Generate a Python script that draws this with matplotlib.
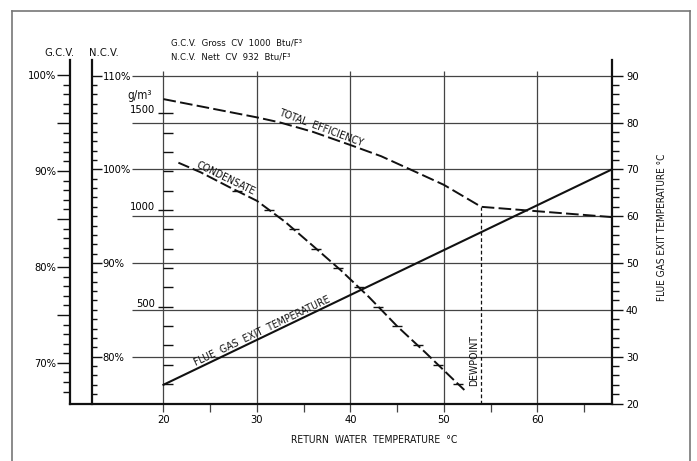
import matplotlib
matplotlib.use('Agg')
import matplotlib.pyplot as plt
import matplotlib.font_manager as fm
import numpy as np
from matplotlib.ticker import FixedLocator
from matplotlib.lines import Line2D

# pick a narrow font if one is installed (CAD-like look)
_narrow = None
for f in fm.fontManager.ttflist:
    fn = f.fname.lower()
    if ('narrow' in fn or 'condensed' in fn) and not any(k in fn for k in ('bold', 'italic', 'oblique', 'mono', 'serif')):
        _narrow = f
        break
if _narrow is not None:
    plt.rcParams['font.family'] = [_narrow.name, 'Liberation Sans', 'DejaVu Sans']
    plt.rcParams['font.stretch'] = _narrow.stretch
    FS = 8
    SP = '  '
    K = 1.0
else:
    plt.rcParams['font.family'] = ['Liberation Sans', 'DejaVu Sans']
    FS = 7.3
    SP = ' '
    K = 0.9

# ---------------- data ----------------
eff_return_temp = [20, 30, 32.5, 36, 40, 43.3, 46.5, 50, 54, 68]
total_eff_ncv = [107.5, 105.55, 105.0, 104.0, 102.6, 101.4, 99.95, 98.35, 96.0, 94.9]

cond_return_temp = [21.6, 24, 27, 30, 33, 36, 39, 42, 45, 48, 51, 52.2]
condensate_gm3 = [1245, 1195, 1120, 1048, 940, 815, 688, 550, 400, 265, 125, 70]

flue_return_temp = [20, 68]
flue_gas_temp = [24, 70]

dewpoint_temp = 54

x_major = [20, 30, 40, 50, 60]
x_minor = [25, 35, 45, 55, 65]
flue_major = [20, 30, 40, 50, 60, 70, 80, 90]
gcv_major = [70, 80, 90, 100]
ncv_major = [80, 90, 100, 110]
cond_major = [500, 1000, 1500]
cond_marks = [100, 200, 300, 400, 500, 600, 700, 800, 900, 1000, 1100]

# ---------------- layout ----------------
W, H = 697, 461
fig = plt.figure(figsize=(W / 100, H / 100), dpi=100)

def fx(px):
    return px / W

def fy(py):
    return 1 - py / H

rect = [fx(70), fy(403.5), fx(612) - fx(70), fy(60) - fy(403.5)]
XL = (10, 68)
YT = (20, 93.35)                     # flue gas temperature scale
YN = (75, 111.675)                   # N.C.V. %
YG = (65.77, 101.56)                 # G.C.V. %
YC = (0, 1776)                       # condensate g/m3

ink = '#111111'
grid_c = '#444444'

def sp(s, spacer=None):
    return s.replace(' ', SP if spacer is None else spacer)

# border
for xs, ys in [([fx(11.5), fx(11.5)], [fy(11.5), -0.05]),
               ([fx(11.5), fx(690)], [fy(11.5), fy(11.5)]),
               ([fx(690), fx(690)], [fy(11.5), -0.05])]:
    fig.add_artist(Line2D(xs, ys, color='#777777', lw=1.2))

# ---- main axes (return water temp vs flue gas temp) ----
ax = fig.add_axes(rect)
ax.set_xlim(*XL)
ax.set_ylim(*YT)
ax.patch.set_visible(False)
ax.spines['top'].set_visible(False)
for s in ['left', 'right', 'bottom']:
    ax.spines[s].set_linewidth(1.6)
    ax.spines[s].set_color(ink)

ax.xaxis.set_major_locator(FixedLocator(x_major))
ax.xaxis.set_minor_locator(FixedLocator(x_minor))
ax.set_xticklabels([str(v) for v in x_major])
ax.tick_params(axis='x', which='both', direction='out', length=5.8, width=0.9,
               color=grid_c, pad=2.5, labelsize=FS)

ax.yaxis.tick_right()
ax.yaxis.set_major_locator(FixedLocator(flue_major))
ax.yaxis.set_minor_locator(FixedLocator(list(range(22, 90, 2))))
ax.set_yticklabels([str(v) for v in flue_major])
ax.tick_params(axis='y', which='major', direction='out', length=8, width=1.0,
               color=ink, pad=2, labelsize=FS)
ax.tick_params(axis='y', which='minor', direction='out', length=5, width=1.0, color=ink)

# grid
ax.hlines(flue_major[1:], 16.6, 68, colors=grid_c, lw=0.9, zorder=1)
ax.vlines(x_major, 20, 91.0, colors=grid_c, lw=0.9, zorder=1)

# flue gas exit temperature line
ax.plot(flue_return_temp, flue_gas_temp, color=ink, lw=1.5, zorder=4)
ax.text(30.8, 34.6, sp('FLUE GAS EXIT TEMPERATURE'), rotation=25.5, rotation_mode='anchor',
        ha='center', va='bottom', fontsize=FS * 0.95, color=ink)

# ---- G.C.V. scale ----
axg = fig.add_axes(rect)
axg.set_xlim(*XL)
axg.set_ylim(*YG)
axg.patch.set_visible(False)
for s in axg.spines.values():
    s.set_visible(False)
axg.xaxis.set_visible(False)
axg.yaxis.set_major_locator(FixedLocator([70, 75, 80, 85, 90, 95, 100]))
axg.yaxis.set_minor_locator(FixedLocator(list(range(67, 100))))
axg.set_yticklabels(['70%', '', '80%', '', '90%', '', '100%'])
axg.tick_params(axis='y', which='major', direction='out', length=9.4, width=1.0,
                color=ink, pad=0.5, labelsize=FS)
axg.tick_params(axis='y', which='minor', direction='out', length=5, width=1.0, color=ink)

# ---- N.C.V. scale / efficiency ----
axn = fig.add_axes(rect)
axn.set_xlim(*XL)
axn.set_ylim(*YN)
axn.patch.set_visible(False)
for k, s in axn.spines.items():
    s.set_visible(k == 'right')
axn.spines['right'].set_position(('data', 12.37))
axn.spines['right'].set_linewidth(1.6)
axn.spines['right'].set_color(ink)
axn.xaxis.set_visible(False)
axn.yaxis.tick_right()
axn.yaxis.set_major_locator(FixedLocator(ncv_major))
axn.yaxis.set_minor_locator(FixedLocator(list(range(76, 110))))
axn.set_yticklabels([f'{v}%' for v in ncv_major])
axn.tick_params(axis='y', which='major', direction='out', length=7.2, width=1.0,
                color=ink, pad=0.5, labelsize=FS)
axn.tick_params(axis='y', which='minor', direction='out', length=3.6, width=1.0, color=ink)

axn.plot(eff_return_temp, total_eff_ncv, color=ink, lw=1.4, dashes=(6.5, 2.2), zorder=4)
eff_dew = total_eff_ncv[eff_return_temp.index(dewpoint_temp)]
axn.plot([dewpoint_temp, dewpoint_temp], [YN[0], eff_dew], color=ink, lw=0.9,
         dashes=(3, 2), zorder=3)
axn.text(36.7, 103.9, sp('TOTAL EFFICIENCY'), rotation=-20.5, rotation_mode='anchor',
         ha='center', va='bottom', fontsize=FS * 0.95, color=ink)

# ---- condensate scale ----
axc = fig.add_axes(rect)
axc.set_xlim(*XL)
axc.set_ylim(*YC)
axc.patch.set_visible(False)
for s in axc.spines.values():
    s.set_visible(False)
axc.spines['left'].set_position(('data', 20))
axc.xaxis.set_visible(False)
axc.yaxis.remove_overlapping_locs = False
axc.yaxis.set_major_locator(FixedLocator(cond_major))
axc.yaxis.set_minor_locator(FixedLocator(list(range(100, 1600, 100))))
axc.set_yticklabels([str(v) for v in cond_major])
axc.tick_params(axis='y', which='major', direction='out', length=3.6, width=1.0,
                color=ink, pad=2.5, labelsize=FS)
axc.tick_params(axis='y', which='minor', direction='in', length=7.2, width=1.0, color=ink)
for lab in axc.get_yticklabels():
    lab.set_va('baseline')

axc.plot(cond_return_temp, condensate_gm3, color=ink, lw=1.4, dashes=(6, 2), zorder=4)
mark_x = np.interp(cond_marks, condensate_gm3[::-1], cond_return_temp[::-1])
axc.plot(mark_x, cond_marks, ls='none', marker='_', ms=7.5, mew=1.0, color=ink, zorder=4)
axc.text(26.4, 1140, 'CONDENSATE', rotation=-26, rotation_mode='anchor',
         ha='center', va='bottom', fontsize=FS * 0.95, color=ink)

ax.text(53.2, 29.1, 'DEWPOINT', rotation=90, ha='center', va='center',
        fontsize=FS * 0.95, color=ink)

# ---- free texts ----
fig.text(fx(374), fy(440), sp('RETURN WATER TEMPERATURE °C'), ha='center', va='center',
         fontsize=FS * 0.93, color=ink)
fig.text(fx(662), fy(227.5), sp('FLUE GAS EXIT TEMPERATURE °C', ' '), rotation=90,
         ha='center', va='center', fontsize=FS * 0.9 * K, color=ink)
fig.text(fx(59), fy(53), 'G.C.V.', ha='center', va='center', fontsize=FS, color=ink)
fig.text(fx(104), fy(53), 'N.C.V.', ha='center', va='center', fontsize=FS, color=ink)
fig.text(fx(171), fy(43), sp('G.C.V. Gross CV 1000 Btu/F³'), ha='left', va='center',
         fontsize=FS * 0.85, color=ink)
fig.text(fx(171), fy(57), sp('N.C.V. Nett CV 932 Btu/F³'), ha='left', va='center',
         fontsize=FS * 0.85, color=ink)
fig.text(fx(140), fy(95), 'g/m³', ha='center', va='center', fontsize=FS * 1.05, color=ink)

fig.savefig('out.png', dpi=100)
